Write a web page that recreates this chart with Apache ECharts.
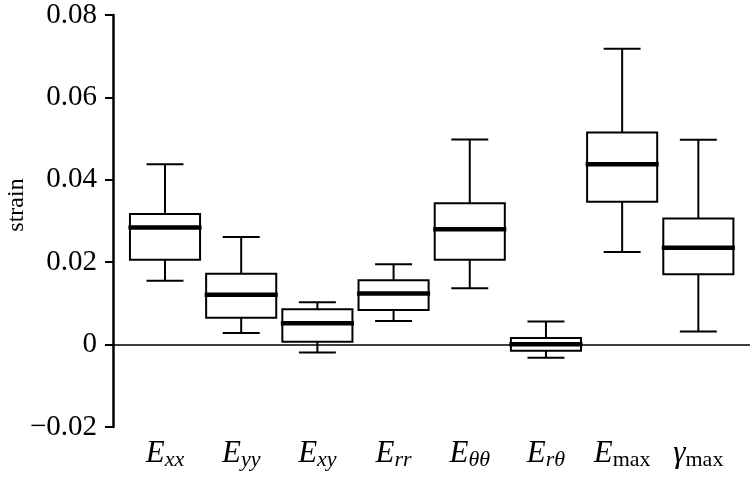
<!DOCTYPE html>
<html>
<head>
<meta charset="utf-8">
<script src="https://cdn.jsdelivr.net/npm/echarts@6/dist/echarts.min.js"></script>
<style>html,body{margin:0;padding:0;background:#fff}#c{width:750px;height:481px}</style>
</head>
<body>
<div id="c"></div>
<script>
// categories (rich-text labels)
const categories = ['{e|E}{s|xx}', '{e|E}{s|yy}', '{e|E}{s|xy}', '{e|E}{s|rr}', '{e|E}{s|θθ}', '{e|E}{s|rθ}', '{e|E}{m|max}', '{e|γ}{m|max}'];
// box statistics: [lower whisker, Q1, median, Q3, upper whisker]
const lowWhisker = [0.0155, 0.0028, -0.0019, 0.0057, 0.0137, -0.0032, 0.0225, 0.0032];
const q1Values   = [0.0206, 0.0065, 0.0007, 0.0084, 0.0206, -0.0015, 0.0347, 0.0171];
const medians    = [0.0284, 0.0121, 0.0052, 0.0124, 0.0280, 0.0001, 0.0438, 0.0235];
const q3Values   = [0.0317, 0.0172, 0.0086, 0.0156, 0.0343, 0.0016, 0.0515, 0.0306];
const highWhisker= [0.0438, 0.0261, 0.0103, 0.0195, 0.0498, 0.0056, 0.0718, 0.0497];
const yTicks = [-0.02, 0, 0.02, 0.04, 0.06, 0.08];

const data = categories.map((c, i) => [i, lowWhisker[i], q1Values[i], medians[i], q3Values[i], highWhisker[i]]);
const catIdx = categories.map((c, i) => i);

const xMin = -0.6825, xMax = 7.678;
const serif = 'Liberation Serif';

const chart = echarts.init(document.getElementById('c'), null, {renderer: 'canvas'});
chart.setOption({
  animation: false,
  backgroundColor: '#fff',
  grid: {left: 113, right: 0, top: 15, bottom: 54, containLabel: false, outerBoundsMode: 'none'},
  xAxis: [{
    type: 'value', min: xMin, max: xMax,
    axisLine: {show: true, onZero: true, lineStyle: {color: '#000', width: 1.5}},
    axisTick: {show: false}, axisLabel: {show: false}, splitLine: {show: false}
  }, {
    type: 'value', min: xMin, max: xMax, position: 'bottom',
    axisLine: {show: false, onZero: false}, axisTick: {show: false}, splitLine: {show: false},
    axisLabel: {
      show: true, customValues: catIdx, margin: 11,
      formatter: v => categories[Math.round(v)],
      rich: {
        e: {fontFamily: serif, fontStyle: 'italic', fontSize: 31, color: '#000', lineHeight: 32},
        s: {fontFamily: serif, fontStyle: 'italic', fontSize: 22, color: '#000', lineHeight: 32, padding: [12, 0, 0, 0]},
        m: {fontFamily: serif, fontSize: 22, color: '#000', lineHeight: 32, padding: [12, 0, 0, 0]}
      }
    }
  }],
  yAxis: {
    type: 'value', min: -0.02, max: 0.08, interval: 0.02,
    name: 'strain', nameLocation: 'middle', nameGap: 84, nameRotate: 90, nameMoveOverlap: false,
    nameTextStyle: {fontFamily: serif, fontSize: 24, color: '#000', padding: [0, 0, 0, 32]},
    axisLine: {show: true, onZero: false, lineStyle: {color: '#000', width: 2.5}},
    axisTick: {show: true, length: 8, lineStyle: {color: '#000', width: 2}},
    axisLabel: {fontFamily: serif, fontSize: 29, color: '#000', margin: 16,
      formatter: v => { const t = yTicks.find(x => Math.abs(x - v) < 1e-9); if (t === undefined) return ''; if (t === 0) return '0'; return (t < 0 ? '\u22120' : '0') + Math.abs(t).toFixed(2).slice(1); }},
    splitLine: {show: false}
  },
  series: [{
    type: 'custom', xAxisIndex: 0, yAxisIndex: 0,
    data: data,
    encode: {x: 0, y: [1, 2, 3, 4, 5]},
    renderItem: function (params, api) {
      const i = api.value(0);
      const lo = api.coord([i, api.value(1)]);
      const q1 = api.coord([i, api.value(2)]);
      const md = api.coord([i, api.value(3)]);
      const q3 = api.coord([i, api.value(4)]);
      const hi = api.coord([i, api.value(5)]);
      const band = api.size([1, 0])[0];
      const bw = band * 0.92, cw = band * 0.485;
      const x = lo[0];
      const ls = {stroke: '#000', lineWidth: 2};
      return {
        type: 'group',
        children: [
          {type: 'line', shape: {x1: x, y1: hi[1], x2: x, y2: q3[1]}, style: ls},
          {type: 'line', shape: {x1: x, y1: q1[1], x2: x, y2: lo[1]}, style: ls},
          {type: 'line', shape: {x1: x - cw / 2, y1: hi[1], x2: x + cw / 2, y2: hi[1]}, style: ls},
          {type: 'line', shape: {x1: x - cw / 2, y1: lo[1], x2: x + cw / 2, y2: lo[1]}, style: ls},
          {type: 'rect', shape: {x: x - bw / 2, y: q3[1], width: bw, height: q1[1] - q3[1]}, style: {fill: 'rgba(0,0,0,0)', stroke: '#000', lineWidth: 2}},
          {type: 'line', shape: {x1: x - bw / 2 - 1.5, y1: md[1], x2: x + bw / 2 + 1.5, y2: md[1]}, style: {stroke: '#000', lineWidth: 4.5}}
        ]
      };
    }
  }]
});
</script>
</body>
</html>
